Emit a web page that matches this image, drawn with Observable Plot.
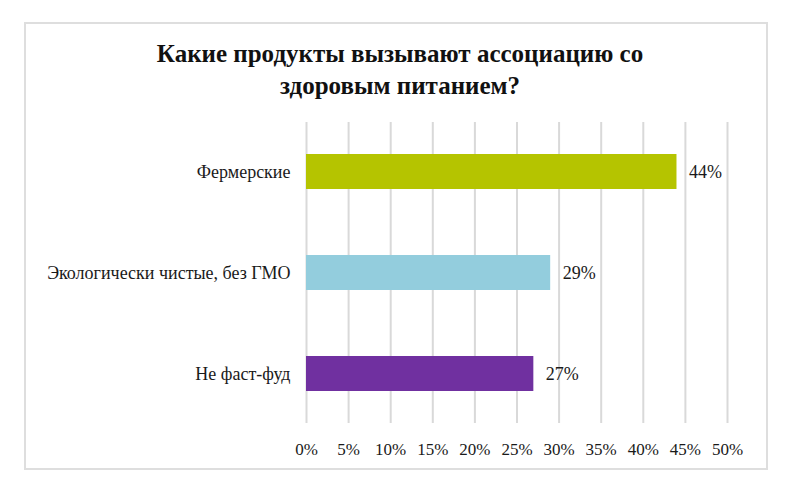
<!DOCTYPE html>
<html>
<head>
<meta charset="utf-8">
<script src="https://cdn.jsdelivr.net/npm/d3@7"></script>
<script src="https://cdn.jsdelivr.net/npm/@observablehq/plot@0.6"></script>
<style>
  html, body { margin: 0; padding: 0; background: #fff; }
  #wrap { position: relative; width: 800px; height: 488px; overflow: hidden; }
  #frame { position: absolute; left: 24px; top: 22px; width: 744px; height: 448px; border: 2px solid #dedede; box-sizing: border-box; }
  #title { position: absolute; left: 0; top: 38px; width: 800px; text-align: center;
           font-family: "Times New Roman", "Liberation Serif", Tinos, "DejaVu Serif", serif; font-weight: bold; font-size: 25px; line-height: 32px; color: #111; }
  #chart { position: absolute; left: 0; top: 102px; }
</style>
</head>
<body>
<div id="wrap">
  <div id="frame"></div>
  <div id="title">Какие продукты вызывают ассоциацию со<br>здоровым питанием?</div>
  <div id="chart"></div>
</div>
<script>
const categories = ["Фермерские", "Экологически чистые, без ГМО", "Не фаст-фуд"];
const values = [44, 29, 27];
const colors = ["#b5c400", "#93cddd", "#7030a0"];
const xTicks = [0, 5, 10, 15, 20, 25, 30, 35, 40, 45, 50];

const data = categories.map((c, i) => ({category: c, value: values[i], color: colors[i]}));

const chart = Plot.plot({
  width: 800,
  height: 386,
  marginTop: 20,
  marginBottom: 65,
  marginLeft: 306,
  marginRight: 73,
  style: {fontFamily: "'Times New Roman', 'Liberation Serif', Tinos, 'DejaVu Serif', serif", fontSize: "17px", color: "#1a1a1a", background: "transparent"},
  x: {domain: [0, 50], ticks: xTicks, tickFormat: d => d + "%", label: null},
  y: {domain: categories, paddingInner: 0.655, paddingOuter: 0.31, label: null},
  marks: [
    Plot.gridX(xTicks, {stroke: "#d9d9d9", strokeOpacity: 1, strokeWidth: 2}),
    Plot.barX(data, {x: "value", y: "category", fill: "color"}),
    Plot.text(data, {x: "value", y: "category", text: d => d.value + "%", textAnchor: "start", dx: 12, fill: "#1a1a1a", fontSize: 18}),
    Plot.axisX({ticks: xTicks, tickSize: 0, tickPadding: 19, tickFormat: d => d + "%", fontSize: 17, label: null}),
    Plot.axisY({tickSize: 0, tickPadding: 16, fontSize: 18, label: null})
  ]
});
document.getElementById("chart").appendChild(chart);
</script>
</body>
</html>
